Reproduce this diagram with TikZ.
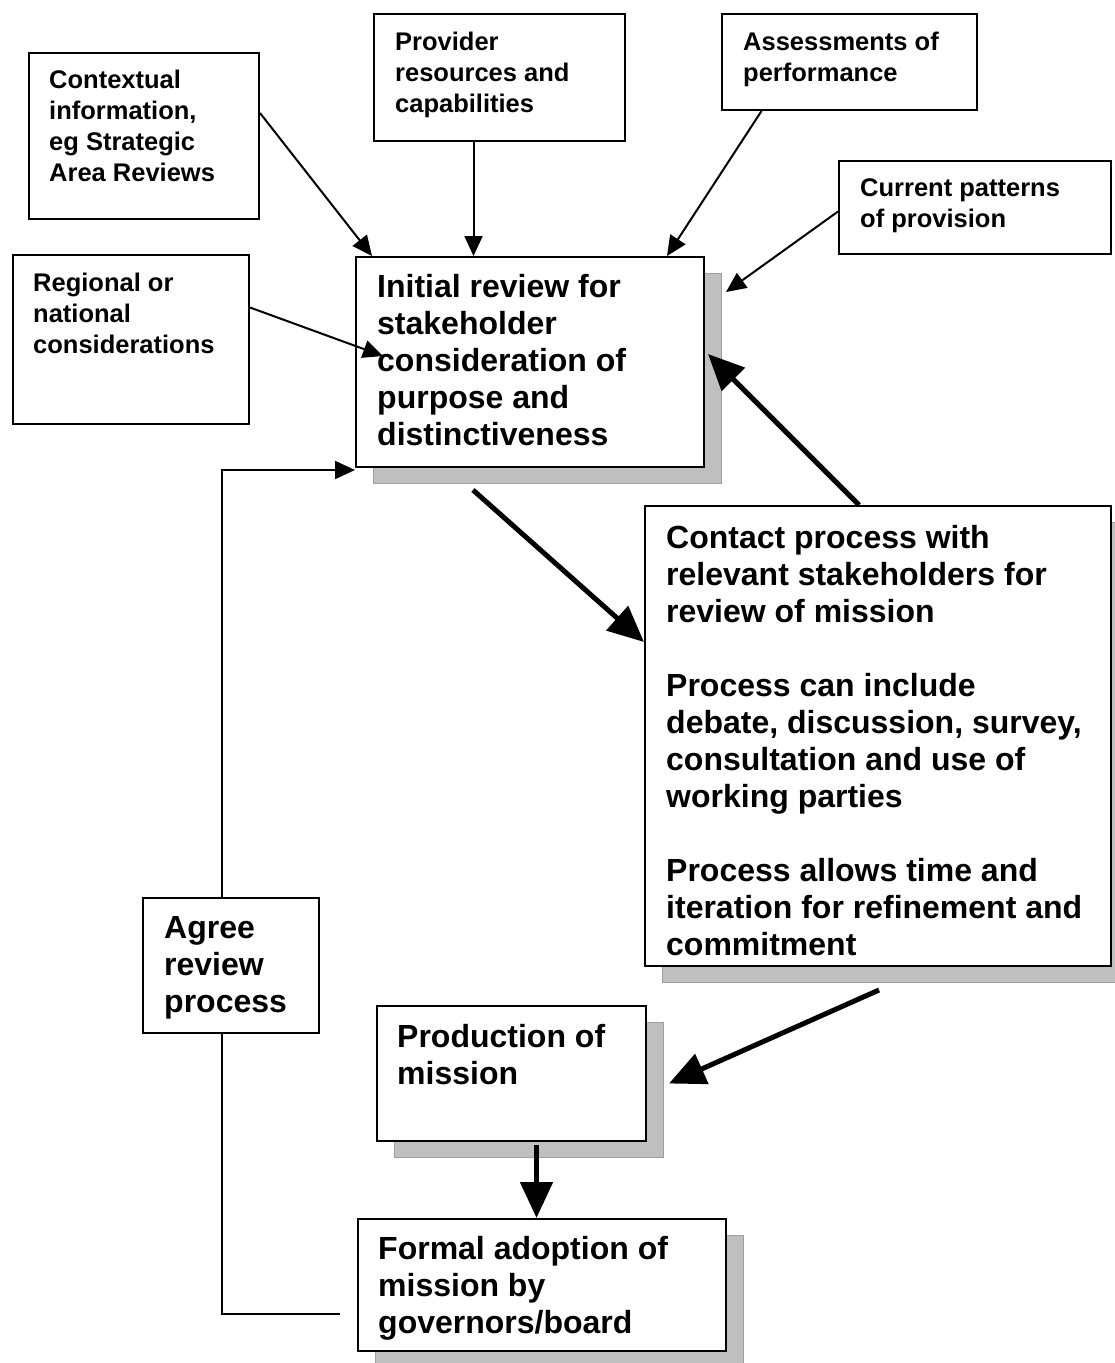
\documentclass[tikz,border=0pt]{standalone}
\usepackage{fontspec}
\setmainfont{Liberation Sans}
\usetikzlibrary{arrows.meta,shadows,backgrounds}
\tikzset{
  box/.style={draw, line width=2pt, fill=white, anchor=north west, inner sep=0pt},
  shbox/.style={box, drop shadow={shadow xshift=17pt, shadow yshift=-16pt, fill=gray!50, draw=gray!75, line width=1pt, opacity=1}},
  small/.style={anchor=north west, inner sep=0pt, align=left, font=\fontsize{25.5}{31}\selectfont\bfseries},
  big/.style={anchor=north west, inner sep=0pt, align=left, font=\fontsize{32}{37}\selectfont\bfseries},
  thin/.style={line width=2pt, -{Triangle[length=20pt,width=18pt]}},
  thick/.style={line width=5pt, -{Triangle[length=36pt,width=32pt]}},
}
\begin{document}
\begin{tikzpicture}[x=1pt,y=-1pt]
\useasboundingbox (0,0) rectangle (1114,1363);
% input boxes
\node[box, minimum width=230pt, minimum height=166pt] (context) at (28,52) {};
\node[small] (contextT) at (49,70) {Contextual\\information,\\eg Strategic\\Area Reviews};
\node[box, minimum width=251pt, minimum height=127pt] (provider) at (373,13) {};
\node[small] (providerT) at (395,32) {Provider\\resources and\\capabilities};
\node[box, minimum width=255pt, minimum height=96pt] (assess) at (721,13) {};
\node[small] (assessT) at (743,32) {Assessments of\\performance};
\node[box, minimum width=272pt, minimum height=93pt] (current) at (838,160) {};
\node[small] (currentT) at (860,178) {Current patterns\\of provision};
\node[box, minimum width=236pt, minimum height=169pt] (regional) at (12,254) {};
\node[small] (regionalT) at (33,273) {Regional or\\national\\considerations};
% main process boxes
\node[shbox, minimum width=348pt, minimum height=210pt] (init) at (355,256) {};
\node[big] (initT) at (377,274) {Initial review for\\stakeholder\\consideration of\\purpose and\\distinctiveness};
\node[shbox, minimum width=466pt, minimum height=460pt] (contact) at (644,505) {};
\node[big] (contactT) at (666,525) {Contact process with\\relevant stakeholders for\\review of mission\\[37pt]Process can include\\debate, discussion, survey,\\consultation and use of\\working parties\\[37pt]Process allows time and\\iteration for refinement and\\commitment};
\node[shbox, minimum width=269pt, minimum height=135pt] (prod) at (376,1005) {};
\node[big] (prodT) at (397,1024) {Production of\\mission};
\node[shbox, minimum width=368pt, minimum height=132pt] (formal) at (357,1218) {};
\node[big] (formalT) at (378,1236) {Formal adoption of\\mission by\\governors/board};
\coordinate (fb) at (340,1314);
\coordinate (fbturn) at (222,964);
\begin{scope}[on background layer]
\draw[thin] (fb) -| (fbturn) |- ([yshift=-2]init.south west);
\end{scope}
\node[box, minimum width=176pt, minimum height=135pt] (agree) at (142,897) {};
\node[big] (agreeT) at (164,916) {Agree\\review\\process};
% input arrows
\draw[thin] ([yshift=23]context.east) -- ([xshift=17]init.north west);
\draw[thin] ([xshift=-26]provider.south) -- ([xshift=-26]provider.south |- init.north);
\draw[thin] ([xshift=-88]assess.south) -- ([xshift=-38]init.north east);
\draw[thin] ([yshift=-4]current.west) -- ([xshift=21,yshift=-36]init.north east);
\draw[thin] ([yshift=32]regional.east) -- ([xshift=28,yshift=-100]init.north west);
% main flow
\draw[thick] ([xshift=-57,yshift=-22]init.south) -- ([yshift=94]contact.west);
\draw[thick] ([xshift=-19]contact.north) -- ([xshift=3,yshift=8]init.east);
\draw[thick] ([xshift=1,yshift=-23]contact.south) -- ([xshift=22,yshift=-10]prod.east);
\draw[thick] ([xshift=25,yshift=-3]prod.south) -- ([xshift=25]prod.south |- formal.north);
\end{tikzpicture}
\end{document}
